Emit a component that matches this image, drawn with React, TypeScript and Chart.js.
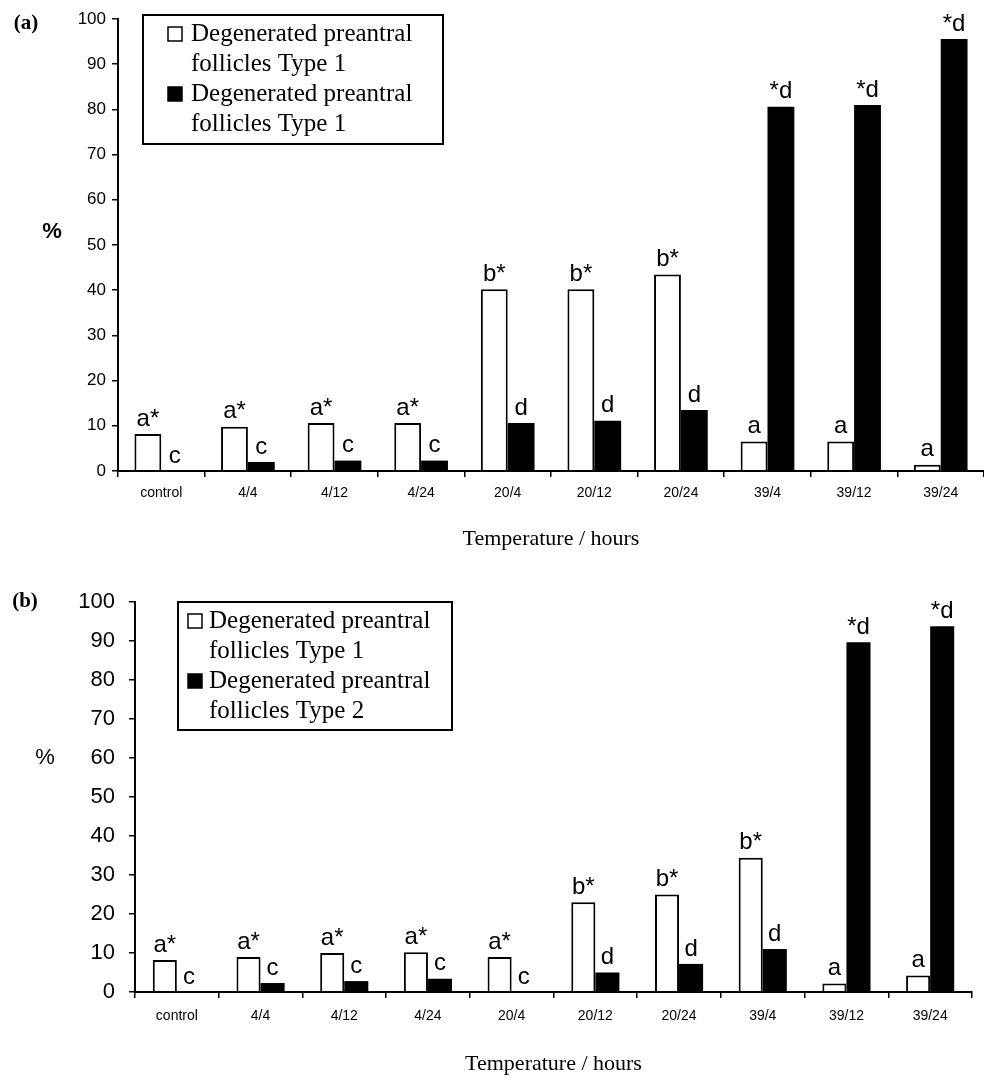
import React, { useEffect, useRef } from "react";
import { Chart, registerables } from "chart.js";

Chart.register(...registerables);

// ---------- data ----------
const categoriesA = ["control", "4/4", "4/12", "4/24", "20/4", "20/12", "20/24", "39/4", "39/12", "39/24"];
const type1A = [8.2, 9.8, 10.6, 10.6, 40.2, 40.2, 43.5, 6.5, 6.5, 1.4];
const type2A = [0, 2.0, 2.3, 2.3, 10.6, 11.1, 13.5, 80.6, 81.0, 95.6];
const sigType1A = ["a*", "a*", "a*", "a*", "b*", "b*", "b*", "a", "a", "a"];
const sigType2A = ["c", "c", "c", "c", "d", "d", "d", "*d", "*d", "*d"];
const legendA = [
  ["Degenerated preantral", "follicles Type 1"],
  ["Degenerated preantral", "follicles Type 1"],
];

const categoriesB = ["control", "4/4", "4/12", "4/24", "20/4", "20/12", "20/24", "39/4", "39/12", "39/24"];
const type1B = [8.2, 9.0, 10.0, 10.2, 9.0, 23.0, 25.0, 34.4, 2.2, 4.2];
const type2B = [0, 2.3, 2.8, 3.4, 0, 5.0, 7.2, 11.0, 89.7, 93.8];
const sigType1B = ["a*", "a*", "a*", "a*", "a*", "b*", "b*", "b*", "a", "a"];
const sigType2B = ["c", "c", "c", "c", "c", "d", "d", "d", "*d", "*d"];
const legendB = [
  ["Degenerated preantral", "follicles Type 1"],
  ["Degenerated preantral", "follicles Type 2"],
];

const xTitle = "Temperature / hours";
const yTitle = "%";
const yMin = 0;
const yMax = 100;
const yStep = 10;

// ---------- plugins ----------
const sigLabelPlugin = {
  id: "sigLabels",
  afterDatasetsDraw(chart: any, _args: any, opts: any) {
    const { ctx } = chart;
    ctx.save();
    ctx.font = opts.font;
    ctx.fillStyle = "#000";
    ctx.textAlign = "center";
    ctx.textBaseline = "bottom";
    (opts.labels || []).forEach((labels: string[], i: number) => {
      const meta = chart.getDatasetMeta(i);
      meta.data.forEach((el: any, j: number) => {
        ctx.fillText(labels[j], el.x, el.y - opts.gap);
      });
    });
    ctx.restore();
  },
};

const boxLegendPlugin = {
  id: "boxLegend",
  afterDraw(chart: any, _args: any, opts: any) {
    const { ctx, chartArea } = chart;
    const x0 = chartArea.left + opts.dx;
    const y0 = chartArea.top + opts.dy;
    ctx.save();
    ctx.fillStyle = "#fff";
    ctx.fillRect(x0, y0, opts.w, opts.h);
    ctx.strokeStyle = "#000";
    ctx.lineWidth = 2;
    ctx.strokeRect(x0, y0, opts.w, opts.h);
    ctx.font = opts.font;
    ctx.textAlign = "left";
    ctx.textBaseline = "middle";
    let line = 0;
    (opts.items as string[][]).forEach((lines, i) => {
      const ds = chart.data.datasets[i];
      const cy = y0 + opts.firstLine + line * opts.lineH;
      const s = opts.marker;
      ctx.fillStyle = ds.backgroundColor;
      ctx.fillRect(x0 + opts.markerX, cy - s / 2, s, s);
      ctx.strokeStyle = "#000";
      ctx.lineWidth = 1.5;
      ctx.strokeRect(x0 + opts.markerX, cy - s / 2, s, s);
      ctx.fillStyle = "#000";
      lines.forEach((t) => {
        ctx.fillText(t, x0 + opts.textX, y0 + opts.firstLine + line * opts.lineH);
        line++;
      });
    });
    ctx.restore();
  },
};

const panelTextPlugin = {
  id: "panelText",
  afterDraw(chart: any, _args: any, opts: any) {
    const { ctx } = chart;
    ctx.save();
    ctx.fillStyle = "#000";
    ctx.textBaseline = "middle";
    ctx.textAlign = "center";
    (opts.texts || []).forEach((t: any) => {
      ctx.font = t.font;
      ctx.fillText(t.text, t.x, t.y);
    });
    ctx.restore();
  },
};

type PanelProps = {
  height: number;
  categories: string[];
  s1: number[];
  s2: number[];
  sig1: string[];
  sig2: string[];
  legend: string[][];
  panel: string;
  conf: any;
};

function Panel({ height, categories, s1, s2, sig1, sig2, legend, panel, conf }: PanelProps) {
  const ref = useRef<HTMLCanvasElement | null>(null);
  useEffect(() => {
    if (!ref.current) return;
    const chart = new Chart(ref.current, {
      type: "bar",
      data: {
        labels: categories,
        datasets: [
          {
            label: legend[0].join(" "),
            data: s1,
            backgroundColor: "#ffffff",
            borderColor: "#000000",
            borderWidth: 2,
            categoryPercentage: conf.catPct,
            barPercentage: 1,
          },
          {
            label: legend[1].join(" "),
            data: s2,
            backgroundColor: "#000000",
            borderColor: "#000000",
            borderWidth: 0,
            categoryPercentage: conf.catPct,
            barPercentage: 1,
          },
        ],
      },
      options: {
        responsive: false,
        animation: false,
        devicePixelRatio: 1,
        layout: { padding: conf.padding },
        plugins: {
          legend: { display: false },
          tooltip: { enabled: false },
          sigLabels: { labels: [sig1, sig2], font: conf.sigFont, gap: 3 },
          boxLegend: { items: legend, ...conf.legend },
          panelText: {
            texts: [
              { text: panel, font: conf.panelFont, x: conf.panelX, y: conf.panelY },
              { text: yTitle, font: conf.pctFont, x: conf.pctX, y: conf.pctY },
            ],
          },
        } as any,
        scales: {
          x: {
            offset: true,
            grid: {
              offset: true,
              drawOnChartArea: false,
              drawTicks: true,
              tickLength: 6,
              color: "#000",
              lineWidth: 1.5,
            },
            border: { display: true, color: "#000", width: 2, z: 1 },
            ticks: {
              color: "#000",
              font: { family: "Liberation Sans, Arial, sans-serif", size: conf.xTickSize },
              padding: conf.xTickPad,
              maxRotation: 0,
              autoSkip: false,
            },
            title: {
              display: true,
              text: xTitle,
              color: "#000",
              font: { family: "Liberation Serif, Times New Roman, serif", size: 22 },
              padding: { top: 0, bottom: conf.titlePad },
            },
            afterFit: (scale: any) => {
              scale.height = conf.xHeight;
            },
          },
          y: {
            min: yMin,
            max: yMax,
            grid: {
              drawOnChartArea: false,
              drawTicks: true,
              tickLength: 6,
              color: "#000",
              lineWidth: 1.5,
            },
            border: { display: true, color: "#000", width: 2 },
            ticks: {
              stepSize: yStep,
              color: "#000",
              font: { family: "Liberation Sans, Arial, sans-serif", size: conf.yTickSize },
              padding: conf.yTickPad,
            },
            afterFit: (scale: any) => {
              scale.width = conf.yWidth;
            },
          },
        },
      },
      plugins: [sigLabelPlugin, boxLegendPlugin, panelTextPlugin],
    });
    return () => chart.destroy();
  }, []);
  return <canvas ref={ref} width={984} height={height} style={{ display: "block" }} />;
}

const confA = {
  catPct: 0.62,
  padding: { top: 19, left: 0, right: 0, bottom: 0 },
  xHeight: 99,
  yWidth: 118,
  xTickSize: 14,
  xTickPad: 8,
  yTickSize: 17,
  yTickPad: 6,
  titlePad: 18,
  sigFont: "24px Liberation Sans, Arial, sans-serif",
  panelFont: "bold 21px Liberation Serif, Times New Roman, serif",
  panelX: 26,
  panelY: 24,
  pctFont: "bold 22px Liberation Sans, Arial, sans-serif",
  pctX: 52,
  pctY: 232,
  legend: {
    dx: 25,
    dy: -4,
    w: 300,
    h: 129,
    font: "25px Liberation Serif, Times New Roman, serif",
    firstLine: 19,
    lineH: 30,
    marker: 14,
    markerX: 25,
    textX: 48,
  },
};

const confB = {
  catPct: 0.575,
  padding: { top: 32, left: 0, right: 12, bottom: 0 },
  xHeight: 89,
  yWidth: 135,
  xTickSize: 14,
  xTickPad: 10,
  yTickSize: 22,
  yTickPad: 14,
  titlePad: 4,
  sigFont: "24px Liberation Sans, Arial, sans-serif",
  panelFont: "bold 21px Liberation Serif, Times New Roman, serif",
  panelX: 25,
  panelY: 32,
  pctFont: "22px Liberation Sans, Arial, sans-serif",
  pctX: 45,
  pctY: 188,
  legend: {
    dx: 43,
    dy: 0,
    w: 274,
    h: 128,
    font: "25px Liberation Serif, Times New Roman, serif",
    firstLine: 19,
    lineH: 30,
    marker: 14,
    markerX: 10,
    textX: 31,
  },
};

export default function App() {
  return (
    <div style={{ position: "absolute", left: 0, top: 0, width: 984, height: 1081, background: "#fff" }}>
      <Panel
        height={570}
        categories={categoriesA}
        s1={type1A}
        s2={type2A}
        sig1={sigType1A}
        sig2={sigType2A}
        legend={legendA}
        panel="(a)"
        conf={confA}
      />
      <Panel
        height={511}
        categories={categoriesB}
        s1={type1B}
        s2={type2B}
        sig1={sigType1B}
        sig2={sigType2B}
        legend={legendB}
        panel="(b)"
        conf={confB}
      />
    </div>
  );
}
